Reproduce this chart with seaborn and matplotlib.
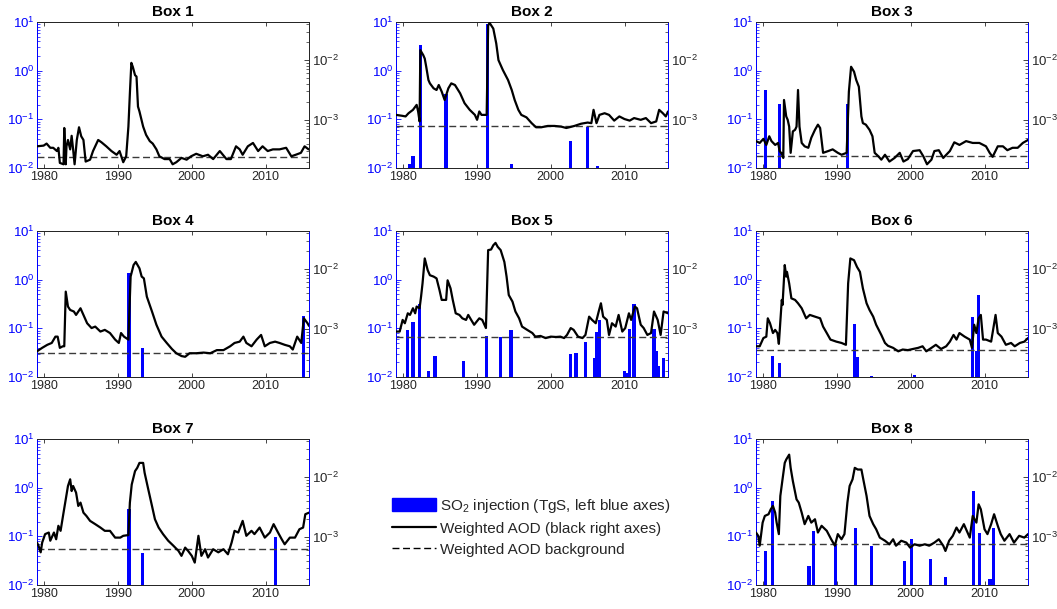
import numpy as np
import matplotlib
matplotlib.use("Agg")
import matplotlib.pyplot as plt
import seaborn as sns
from matplotlib.patches import Patch
from matplotlib.lines import Line2D
from matplotlib.ticker import LogLocator, NullFormatter, FixedLocator

# ---------------- data ----------------
titles = ["Box 1", "Box 2", "Box 3", "Box 4", "Box 5", "Box 6", "Box 7", "Box 8"]
year_ticks = [1980, 1990, 2000, 2010]

# Weighted AOD (right axis), values in units of 1e-3
t1 = [1979.0, 1979.9, 1980.3, 1980.8, 1981.2, 1981.7, 1981.9, 1982.1, 1982.6, 1982.7, 1982.9, 1983.0,
      1983.2, 1983.5, 1983.7, 1983.9, 1984.1, 1984.4, 1984.7, 1985.0, 1985.3, 1985.6, 1986.2, 1986.6,
      1987.3, 1987.75, 1988.4, 1989.1, 1989.8, 1990.2, 1990.7, 1991.1, 1991.4, 1991.6, 1991.8, 1992.0,
      1992.3, 1992.5, 1992.7, 1992.9, 1993.4, 1993.8, 1994.3, 1994.7, 1995.2, 1995.6, 1996.3, 1997.0,
      1997.4, 1997.9, 1998.6, 1999.3, 1999.9, 2000.6, 2001.5, 2002.2, 2002.9, 2003.8, 2004.7, 2005.3,
      2006.0, 2006.5, 2006.9, 2007.6, 2008.3, 2009.0, 2009.6, 2010.3, 2011.0, 2011.9, 2012.8, 2013.5,
      2014.1, 2014.8, 2015.3, 2015.85]
aod1 = [0.36, 0.37, 0.40, 0.34, 0.34, 0.30, 0.34, 0.19, 0.18, 0.73, 0.18, 0.36,
        0.46, 0.32, 0.54, 0.32, 0.18, 0.46, 0.75, 0.53, 0.46, 0.20, 0.215, 0.30,
        0.46, 0.42, 0.36, 0.30, 0.26, 0.30, 0.195, 0.245, 0.77, 2.78, 9.0, 7.7,
        5.6, 5.3, 1.67, 1.38, 0.77, 0.56, 0.44, 0.40, 0.32, 0.245, 0.22, 0.22,
        0.18, 0.195, 0.23, 0.215, 0.245, 0.27, 0.245, 0.26, 0.22, 0.30, 0.22, 0.22,
        0.36, 0.32, 0.26, 0.36, 0.41, 0.30, 0.36, 0.30, 0.32, 0.32, 0.34, 0.245,
        0.26, 0.28, 0.36, 0.32]
bg1 = 0.24

t2 = [1979.0, 1979.8, 1980.3, 1980.7, 1981.3, 1981.8, 1982.0, 1982.2, 1982.3, 1982.7, 1982.9, 1983.1,
      1983.4, 1983.6, 1984.1, 1984.5, 1984.8, 1985.2, 1985.6, 1986.1, 1986.5, 1987.0, 1987.7, 1988.3,
      1989.0, 1989.7, 1990.0, 1990.3, 1990.6, 1991.3, 1991.5, 1991.7, 1992.2, 1992.6, 1992.9, 1993.5,
      1994.2, 1994.7, 1995.1, 1995.6, 1996.0, 1996.7, 1997.4, 1998.0, 1998.7, 1999.6, 2000.5, 2001.4,
      2002.1, 2002.5, 2003.2, 2004.1, 2005.0, 2005.5, 2005.8, 2006.2, 2006.6, 2007.3, 2007.9, 2008.6,
      2009.3, 2010.0, 2010.7, 2011.3, 2012.2, 2012.9, 2013.6, 2014.3, 2014.7, 2015.2, 2015.6, 2015.9]
aod2 = [1.21, 1.17, 1.14, 1.29, 1.47, 1.78, 1.38, 0.94, 14.7, 12.1, 10.6, 7.74,
        4.64, 4.08, 3.37, 3.16, 3.83, 2.97, 2.15, 3.37, 4.08, 3.83, 2.78, 1.90,
        1.47, 1.21, 1.00, 1.38, 1.21, 1.21, 38.0, 42.0, 33.7, 19.0, 10.0, 6.81,
        4.64, 3.16, 2.15, 1.47, 1.21, 1.10, 0.88, 0.75, 0.75, 0.79, 0.79, 0.77,
        0.73, 0.75, 0.79, 0.86, 0.90, 0.88, 1.47, 0.88, 1.21, 1.29, 1.21, 0.97,
        1.14, 1.03, 0.97, 1.07, 1.00, 1.07, 0.88, 0.94, 1.47, 1.29, 1.14, 1.38]
bg2 = 0.79

t3 = [1979.0, 1979.5, 1980.0, 1980.4, 1980.8, 1981.1, 1981.6, 1982.0, 1982.2, 1982.5, 1982.7, 1982.8,
      1983.1, 1983.3, 1983.5, 1983.7, 1984.0, 1984.3, 1984.5, 1984.7, 1984.9, 1985.2, 1985.6, 1986.1,
      1986.5, 1987.0, 1987.4, 1987.7, 1988.1, 1988.8, 1989.4, 1990.1, 1990.6, 1991.3, 1991.6, 1991.9,
      1992.3, 1992.6, 1992.95, 1993.3, 1993.5, 1993.9, 1994.4, 1994.8, 1995.1, 1995.6, 1996.0, 1996.5,
      1997.1, 1997.8, 1998.5, 1999.0, 1999.6, 2000.3, 2001.2, 2001.7, 2002.2, 2002.8, 2003.2, 2003.8,
      2004.4, 2005.3, 2005.9, 2006.6, 2007.5, 2008.4, 2009.3, 2010.2, 2010.7, 2011.1, 2011.8, 2012.5,
      2013.1, 2013.8, 2014.5, 2015.2, 2015.9]
aod3 = [0.44, 0.41, 0.48, 0.38, 0.53, 0.44, 0.38, 0.41, 0.30, 0.27, 0.23, 2.15,
        1.14, 1.00, 0.77, 0.28, 0.64, 0.68, 0.77, 3.16, 0.77, 0.41, 0.36, 0.34,
        0.50, 0.68, 0.83, 0.73, 0.28, 0.30, 0.32, 0.28, 0.26, 0.28, 2.97, 7.74,
        6.4, 4.64, 3.59, 1.14, 0.88, 0.83, 0.68, 0.53, 0.28, 0.245, 0.215, 0.26,
        0.20, 0.23, 0.28, 0.20, 0.22, 0.30, 0.31, 0.245, 0.18, 0.215, 0.30, 0.31,
        0.23, 0.30, 0.42, 0.38, 0.44, 0.41, 0.41, 0.36, 0.28, 0.24, 0.36, 0.36,
        0.31, 0.34, 0.34, 0.41, 0.46]
bg3 = 0.25

t4 = [1979.0, 1979.7, 1980.4, 1981.0, 1981.5, 1981.8, 1982.1, 1982.5, 1982.7, 1982.9, 1983.2, 1983.5,
      1984.0, 1984.3, 1984.9, 1985.3, 1985.8, 1986.4, 1986.9, 1987.6, 1988.2, 1988.9, 1989.6, 1990.1,
      1990.4, 1990.8, 1991.4, 1991.7, 1992.1, 1992.4, 1992.9, 1993.2, 1993.5, 1993.9, 1994.6, 1995.2,
      1995.9, 1996.6, 1997.3, 1997.9, 1998.6, 1999.1, 1999.7, 2000.6, 2001.6, 2002.5, 2003.4, 2004.3,
      2005.2, 2005.8, 2006.5, 2007.0, 2007.4, 2008.1, 2008.8, 2009.4, 2009.9, 2010.6, 2011.3, 2011.9,
      2012.6, 2013.3, 2013.7, 2014.3, 2014.85, 2015.2, 2015.7, 2015.9]
aod4 = [0.42, 0.48, 0.54, 0.58, 0.74, 0.74, 0.48, 0.51, 0.51, 4.2, 2.36, 2.07,
        1.95, 1.71, 2.21, 1.71, 1.24, 1.03, 1.09, 0.90, 0.96, 0.85, 0.66, 0.58,
        0.85, 0.74, 0.66, 7.5, 11.7, 13.2, 10.3, 7.5, 7.0, 3.46, 1.95, 1.17,
        0.74, 0.58, 0.46, 0.39, 0.35, 0.34, 0.39, 0.39, 0.40, 0.39, 0.44, 0.44,
        0.51, 0.58, 0.61, 0.74, 0.58, 0.51, 0.66, 0.79, 0.51, 0.58, 0.61, 0.58,
        0.54, 0.51, 0.45, 0.74, 0.58, 1.50, 1.24, 1.12]
bg4 = 0.39

t5 = [1979.0, 1979.5, 1979.9, 1980.2, 1980.6, 1980.9, 1981.3, 1981.6, 1981.8, 1982.2, 1982.4, 1982.6,
      1982.9, 1983.3, 1983.6, 1984.1, 1984.5, 1984.9, 1985.2, 1985.5, 1985.8, 1986.0, 1986.4, 1986.7,
      1987.1, 1987.6, 1988.0, 1988.5, 1988.8, 1989.2, 1989.6, 1990.3, 1990.7, 1991.2, 1991.5, 1991.9,
      1992.2, 1992.5, 1992.8, 1993.2, 1993.7, 1994.0, 1994.3, 1994.8, 1995.2, 1995.7, 1996.1, 1996.8,
      1997.5, 1997.9, 1998.6, 1999.3, 2000.0, 2000.7, 2001.3, 2001.8, 2002.2, 2002.7, 2003.1, 2003.7,
      2004.3, 2004.7, 2005.2, 2005.6, 2006.1, 2006.5, 2006.8, 2007.1, 2007.6, 2007.9, 2008.3, 2008.8,
      2009.2, 2009.7, 2010.1, 2010.6, 2010.9, 2011.4, 2011.7, 2012.2, 2012.6, 2013.1, 2013.6, 2014.0,
      2014.5, 2014.9, 2015.3, 2015.9]
aod5 = [0.90, 0.90, 1.41, 1.24, 1.82, 1.71, 2.21, 1.82, 2.36, 2.21, 3.46, 5.77,
        15.1, 9.6, 7.9, 7.5, 7.0, 4.46, 3.05, 3.05, 3.05, 6.5, 4.76, 3.05,
        1.82, 1.71, 1.50, 1.41, 1.71, 1.41, 1.17, 1.50, 1.41, 1.03, 20.8, 21.3,
        25.1, 27.5, 23.6, 20.8, 13.2, 7.5, 3.68, 2.86, 1.95, 1.50, 1.09, 0.96,
        0.85, 0.74, 0.76, 0.70, 0.74, 0.73, 0.74, 0.70, 0.79, 1.03, 0.96, 0.74,
        0.70, 0.79, 1.60, 1.41, 1.24, 1.95, 2.68, 1.60, 1.41, 0.79, 1.24, 1.09,
        1.71, 0.90, 1.03, 1.82, 1.41, 2.36, 2.21, 1.17, 1.03, 0.79, 0.85, 1.95,
        1.41, 0.79, 1.95, 1.82]
bg5 = 0.74

t6 = [1979.0, 1979.5, 1980.0, 1980.4, 1980.6, 1980.9, 1981.3, 1981.6, 1981.9, 1982.1, 1982.3, 1982.5,
      1982.6, 1982.9, 1983.1, 1983.2, 1983.5, 1983.8, 1984.3, 1984.7, 1985.2, 1985.8, 1986.3, 1987.0,
      1987.7, 1988.1, 1988.6, 1989.1, 1989.9, 1990.6, 1991.2, 1991.5, 1991.8, 1992.3, 1992.7, 1993.1,
      1993.5, 1994.0, 1994.4, 1994.9, 1995.3, 1996.0, 1996.5, 1996.9, 1997.6, 1998.3, 1998.9, 1999.6,
      2000.3, 2001.0, 2001.6, 2002.1, 2002.8, 2003.4, 2004.1, 2004.8, 2005.3, 2005.8, 2006.2, 2006.6,
      2007.3, 2008.0, 2008.3, 2008.6, 2008.9, 2009.2, 2009.5, 2009.8, 2010.2, 2010.9, 2011.5, 2011.8,
      2012.3, 2012.9, 2013.6, 2014.1, 2014.8, 2015.4, 2015.9]
aod6 = [0.51, 0.51, 0.70, 0.74, 1.50, 1.24, 0.85, 0.96, 0.85, 0.56, 1.32, 3.05,
        2.51, 11.7, 7.5, 9.0, 5.77, 3.24, 3.05, 2.68, 2.21, 1.50, 1.71, 1.60,
        1.50, 1.09, 0.85, 0.66, 0.61, 0.58, 0.54, 5.77, 15.1, 14.1, 10.9, 9.0,
        4.76, 2.68, 2.07, 1.60, 1.17, 0.79, 0.58, 0.52, 0.48, 0.42, 0.45, 0.44,
        0.46, 0.48, 0.51, 0.42, 0.48, 0.54, 0.46, 0.51, 0.61, 0.79, 0.66, 0.85,
        0.74, 0.66, 0.48, 1.17, 0.85, 1.50, 1.71, 0.66, 0.66, 0.61, 1.71, 0.85,
        0.74, 0.54, 0.58, 0.51, 0.58, 0.61, 0.70]
bg6 = 0.45

t7 = [1979.0, 1979.2, 1979.5, 1979.7, 1980.1, 1980.6, 1980.8, 1981.3, 1981.6, 1981.9, 1982.2, 1982.6,
      1982.9, 1983.2, 1983.5, 1983.7, 1983.9, 1984.3, 1984.6, 1984.9, 1985.3, 1985.7, 1986.2, 1986.9,
      1987.6, 1988.2, 1988.9, 1989.6, 1990.3, 1990.7, 1991.4, 1991.6, 1991.85, 1992.3, 1992.6, 1992.9,
      1993.4, 1993.6, 1994.1, 1994.6, 1995.0, 1995.5, 1996.1, 1996.8, 1997.5, 1998.2, 1998.6, 1999.1,
      1999.5, 2000.0, 2000.4, 2000.9, 2001.3, 2001.8, 2002.2, 2002.9, 2003.6, 2004.3, 2004.9, 2005.4,
      2005.8, 2006.3, 2006.9, 2007.4, 2008.1, 2008.5, 2009.2, 2009.9, 2010.6, 2011.1, 2011.7, 2012.2,
      2012.6, 2013.3, 2014.0, 2014.6, 2015.1, 2015.4, 2015.9]
aod7 = [0.80, 0.71, 0.55, 0.80, 1.11, 1.18, 0.86, 1.18, 0.91, 1.53, 1.26, 2.54,
        4.24, 7.1, 9.2, 5.85, 7.1, 5.5, 3.29, 3.74, 2.54, 2.24, 1.85, 1.63,
        1.43, 1.26, 1.26, 0.97, 0.97, 1.04, 1.07, 3.74, 7.5, 12.6, 14.3, 17.3,
        17.3, 11.8, 6.2, 3.29, 1.97, 1.43, 1.11, 0.86, 0.71, 0.58, 0.48, 0.66,
        0.58, 0.48, 0.37, 1.04, 0.48, 0.62, 0.45, 0.62, 0.55, 0.62, 0.51, 0.80,
        1.26, 1.18, 1.85, 1.04, 1.26, 1.11, 1.43, 0.97, 1.18, 1.63, 1.18, 0.91,
        0.75, 0.97, 0.97, 1.34, 1.43, 2.39, 2.54]
bg7 = 0.62

t8 = [1979.0, 1979.3, 1979.5, 1979.9, 1980.2, 1980.7, 1981.0, 1981.3, 1981.6, 1981.8, 1982.1, 1982.3,
      1982.6, 1982.9, 1983.1, 1983.5, 1983.7, 1984.0, 1984.5, 1984.8, 1985.2, 1985.6, 1986.1, 1986.5,
      1987.0, 1987.4, 1987.9, 1988.6, 1989.2, 1989.7, 1990.1, 1990.6, 1991.0, 1991.4, 1991.7, 1992.1,
      1992.4, 1992.8, 1993.3, 1993.6, 1994.0, 1994.4, 1994.9, 1995.3, 1995.8, 1996.5, 1997.1, 1997.6,
      1998.0, 1998.7, 1999.4, 1999.9, 2000.5, 2001.2, 2001.9, 2002.5, 2003.2, 2003.8, 2004.4, 2004.7,
      2005.2, 2005.7, 2006.2, 2006.6, 2007.2, 2007.5, 2008.0, 2008.4, 2008.9, 2009.2, 2009.5, 2010.0,
      2010.4, 2010.9, 2011.3, 2011.8, 2012.2, 2012.7, 2013.4, 2014.0, 2014.7, 2015.4, 2015.9]
aod8 = [1.18, 1.04, 0.71, 1.73, 2.24, 2.39, 2.89, 3.29, 2.54, 1.73, 1.11, 4.83,
        9.2, 17.3, 19.7, 23.8, 14.3, 8.6, 4.24, 3.74, 2.54, 1.63, 2.24, 1.73,
        1.97, 1.18, 1.53, 1.26, 0.91, 0.71, 1.11, 0.91, 1.11, 3.74, 7.1, 9.2,
        14.3, 13.4, 13.4, 8.6, 4.83, 2.24, 1.63, 1.34, 0.97, 0.86, 0.75, 0.91,
        0.71, 0.86, 0.80, 0.66, 0.75, 0.71, 0.75, 0.71, 0.80, 0.91, 0.71, 0.58,
        0.86, 1.04, 1.43, 1.18, 1.63, 1.34, 0.97, 2.24, 1.73, 3.5, 2.89, 1.34,
        1.11, 1.63, 2.39, 1.53, 1.11, 0.86, 1.11, 0.80, 1.04, 0.97, 1.11]
bg8 = 0.75

# SO2 injections (left axis, TgS)
so2_t1 = []
so2_v1 = []
so2_t2 = [1980.8, 1981.3, 1982.3, 1985.8, 1991.4, 1994.65, 2002.7, 2005.0, 2006.3]
so2_v2 = [0.012, 0.018, 3.3, 0.33, 8.9, 0.012, 0.036, 0.071, 0.011]
so2_t3 = [1980.3, 1982.2, 1991.4]
so2_v3 = [0.40, 0.21, 0.21]
so2_t4 = [1991.5, 1993.3, 2015.2]
so2_v4 = [1.37, 0.039, 0.18]
so2_t5 = [1980.6, 1981.3, 1982.2, 1983.4, 1984.3, 1988.2, 1991.3, 1993.2, 1994.6, 2002.7, 2003.4,
          2004.7, 2006.0, 2006.2, 2006.6, 2010.0, 2010.2, 2010.7, 2011.3, 2014.0, 2014.3, 2014.6, 2015.3]
so2_v5 = [0.091, 0.133, 0.32, 0.013, 0.027, 0.021, 0.069, 0.066, 0.091, 0.029, 0.031,
          0.053, 0.025, 0.084, 0.15, 0.013, 0.012, 0.098, 0.32, 0.098, 0.035, 0.017, 0.025]
so2_t6 = [1981.2, 1982.2, 1992.35, 1992.7, 1994.7, 2000.5, 2008.4, 2008.9, 2009.2]
so2_v6 = [0.027, 0.019, 0.125, 0.026, 0.0105, 0.0108, 0.17, 0.034, 0.49]
so2_t7 = [1991.5, 1993.3, 2011.4]
so2_v7 = [0.36, 0.045, 0.099]
so2_t8 = [1980.3, 1981.2, 1986.2, 1986.8, 1989.8, 1992.5, 1994.7, 1999.1, 2000.1, 2002.7, 2004.7,
          2008.5, 2009.3, 2010.75, 2011.2]
so2_v8 = [0.049, 0.54, 0.025, 0.126, 0.067, 0.147, 0.064, 0.031, 0.087, 0.034, 0.0144,
          0.84, 0.116, 0.013, 0.147]

aod_t = [t1, t2, t3, t4, t5, t6, t7, t8]
aod_v = [aod1, aod2, aod3, aod4, aod5, aod6, aod7, aod8]
aod_bg = [bg1, bg2, bg3, bg4, bg5, bg6, bg7, bg8]
so2_t = [so2_t1, so2_t2, so2_t3, so2_t4, so2_t5, so2_t6, so2_t7, so2_t8]
so2_v = [so2_v1, so2_v2, so2_v3, so2_v4, so2_v5, so2_v6, so2_v7, so2_v8]

legend_labels = ["SO$_2$ injection (TgS, left blue axes)",
                 "Weighted AOD (black right axes)",
                 "Weighted AOD background"]

# ---------------- style ----------------
sns.set_theme(style="white")
plt.rcParams["font.family"] = ["Liberation Sans", "DejaVu Sans"]
plt.rcParams["mathtext.fontset"] = "custom"
plt.rcParams["mathtext.rm"] = "Liberation Sans"
plt.rcParams["mathtext.it"] = "Liberation Sans:italic"
plt.rcParams["mathtext.bf"] = "Liberation Sans:bold"

W, H = 1057, 609
fig = plt.figure(figsize=(W / 100, H / 100), dpi=100)

col_left = [37, 396, 756]
row_bottom = [168, 377, 585]
ax_w, ax_h = 272, 146
slots = [(0, 0), (0, 1), (0, 2), (1, 0), (1, 1), (1, 2), (2, 0), (2, 2)]

BLUE = "#0000ff"
DARK = "#262626"
XLIM = (1979.0, 2015.9)
YL_LEFT = (0.01, 10.0)
YL_RIGHT = (1.56e-4, 4.35e-2)

for i, (r, c) in enumerate(slots):
    rect = [col_left[c] / W, 1 - row_bottom[r] / H, ax_w / W, ax_h / H]
    ax = fig.add_axes(rect)
    ax.set_facecolor("white")
    ax.set_yscale("log")
    ax.set_xlim(*XLIM)
    ax.set_ylim(*YL_LEFT)
    if so2_t[i]:
        ax.bar(so2_t[i], np.array(so2_v[i]) - YL_LEFT[0], bottom=YL_LEFT[0],
               width=0.45, color=BLUE, linewidth=0, zorder=2)
    ax.set_yticks([0.01, 0.1, 1, 10])
    ax.yaxis.set_minor_locator(LogLocator(base=10, subs=np.arange(2, 10), numticks=20))
    ax.yaxis.set_minor_formatter(NullFormatter())
    ax.tick_params(axis="y", which="both", direction="in", colors=BLUE, left=True, right=False,
                   labelsize=9.5, pad=2)
    ax.tick_params(axis="y", which="major", length=3.5, width=0.6)
    ax.tick_params(axis="y", which="minor", length=2, width=0.5)
    ax.set_xticks(year_ticks)
    ax.tick_params(axis="x", which="major", direction="in", bottom=True, top=True, length=3,
                   width=0.6, colors=DARK, labelsize=9, pad=2.5)
    ax.xaxis.set_minor_locator(FixedLocator([]))

    ax2 = ax.twinx()
    ax2.set_yscale("log")
    ax2.set_ylim(*YL_RIGHT)
    ax2.axhline(aod_bg[i] * 1e-3, color="#3a3a3a", lw=1.0, ls=(0, (5, 2.6)), zorder=1)
    sns.lineplot(x=np.array(aod_t[i]), y=np.array(aod_v[i]) * 1e-3, ax=ax2, color="black",
                 lw=1.6, estimator=None, sort=False, legend=False, zorder=3)
    ax2.set_ylabel("")
    ax2.set_xlim(*XLIM)
    ax2.yaxis.set_major_locator(LogLocator(base=10, numticks=10))
    ax2.yaxis.set_minor_locator(LogLocator(base=10, subs=np.arange(2, 10), numticks=20))
    ax2.yaxis.set_minor_formatter(NullFormatter())
    ax2.tick_params(axis="y", which="both", direction="in", colors=DARK, right=True, left=False,
                    labelright=True, labelleft=False, labelsize=9.5, pad=2)
    ax2.tick_params(axis="y", which="major", length=3.5, width=0.6)
    ax2.tick_params(axis="y", which="minor", length=2, width=0.5)
    ax2.tick_params(axis="x", which="both", bottom=False, top=False, labelbottom=False)

    right_col = DARK if not so2_t[i] else BLUE
    for a in (ax, ax2):
        a.spines["left"].set_color(BLUE)
        a.spines["right"].set_color(right_col)
        a.spines["top"].set_color(DARK)
        a.spines["bottom"].set_color(DARK)
        for s in a.spines.values():
            s.set_linewidth(0.7)
    ax2.set_title(titles[i], fontsize=11, fontweight="bold", pad=4.5, color="black")

handles = [Patch(facecolor=BLUE, edgecolor=BLUE),
           Line2D([0], [0], color="black", lw=1.6),
           Line2D([0], [0], color="black", lw=1.0, ls=(0, (5, 2.6)))]
fig.legend(handles, legend_labels, loc="upper left", bbox_to_anchor=(392 / W, 1 - 497 / H),
           frameon=False, fontsize=11, handlelength=2.9, handleheight=0.9, handletextpad=0.25,
           labelspacing=0.42, borderpad=0, borderaxespad=0)

fig.savefig("out.png", dpi=100, facecolor="white")
